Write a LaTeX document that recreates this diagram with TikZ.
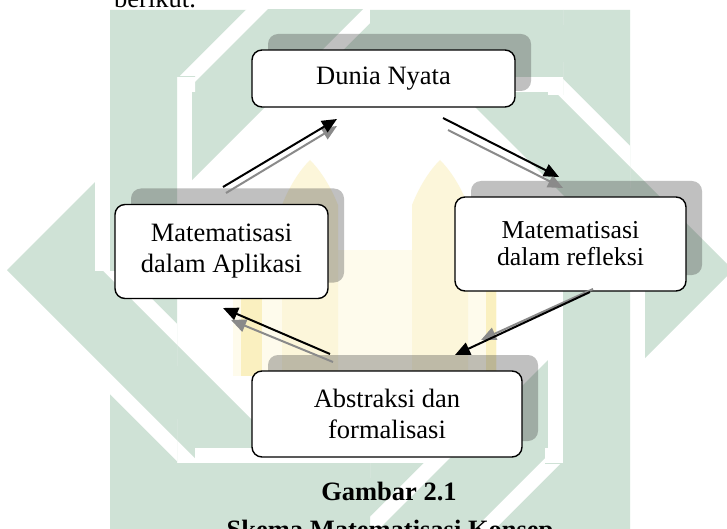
\documentclass[tikz,border=0pt]{standalone}
\usepackage{fontspec}
\setmainfont{Liberation Serif}
\usetikzlibrary{arrows.meta,shadows}
\definecolor{wm}{RGB}{207,226,214}
\definecolor{ypale}{RGB}{254,251,236}
\definecolor{ymid}{RGB}{252,246,218}
\definecolor{ystrong}{RGB}{250,240,192}
\definecolor{arrgray}{RGB}{138,138,138}
\def\wmSout{(110,10) rectangle (630,530)}
\def\wmSin{(177,77) rectangle (563,463)}
\def\wmDout{(7,270) -- (370,-93) -- (733,270) -- (370,633) -- cycle}
\def\wmDin{(102,270) -- (370,2) -- (638,270) -- (370,538) -- cycle}
\tikzset{
  box/.style={draw=black, line width=1.4pt, fill=white, rounded corners=10pt,
    inner sep=0pt, align=center,
    drop shadow={shadow xshift=16pt, shadow yshift=16pt, fill=black!75, opacity=0.33}},
  txt/.style={font=\fontsize{26.5}{31}\selectfont},
  blk/.style={line width=2pt, draw=black, -{Triangle[length=15pt,width=13pt]}},
  gry/.style={line width=2pt, draw=arrgray, -{Triangle[length=15pt,width=13pt]}},
}
\begin{document}
\begin{tikzpicture}[x=1pt,y=-1pt]
\useasboundingbox (0,0) rectangle (727,529);
\fill[white] (0,0) rectangle (727,529);
% ---- watermark ----
\begin{scope}
  \clip (0,10) rectangle (727,529);
  \fill[wm, even odd rule] \wmSout \wmSin;
  \fill[wm, even odd rule] \wmDout \wmDin;
  % diamond over square
  \foreach \cx/\cy/\dx/\dy in {177/10/370/77, 110/270/177/463, 370/463/563/529, 563/77/630/270}{
    \begin{scope}
      \clip (\cx,\cy) rectangle (\dx,\dy);
      \draw[white, line width=30pt] \wmDout \wmDin;
      \fill[wm, even odd rule] \wmDout \wmDin;
    \end{scope}
  }
  % square over diamond
  \foreach \cx/\cy/\dx/\dy in {90/77/195/270, 195/440/370/529, 545/270/650/463, 370/10/563/95}{
    \begin{scope}
      \clip (\cx,\cy) rectangle (\dx,\dy);
      \draw[white, line width=30pt] \wmSout \wmSin;
      \fill[wm, even odd rule] \wmSout \wmSin;
    \end{scope}
  }
  % pale yellow motif in the centre
  \fill[ypale] (233,250) rectangle (497,376);
  \fill[ymid] (282,376) -- (282,205) .. controls (290,185) and (300,170) .. (310,160)
     .. controls (320,170) and (330,185) .. (338,205) -- (338,376) -- cycle;
  \fill[ymid] (412,376) -- (412,205) .. controls (420,185) and (430,170) .. (440,160)
     .. controls (450,170) and (460,185) .. (468,205) -- (468,376) -- cycle;
  \fill[ystrong] (241,250) rectangle (262,376);
  \fill[ystrong] (486,250) rectangle (496,376);
\end{scope}
% ---- boxes ----
\node[box, txt, minimum width=263pt, minimum height=57pt] (dn) at (383.5,78.5) {\raisebox{-2pt}{Dunia Nyata}};
\node[box, txt, minimum width=213pt, minimum height=94pt] (apl) at (221.5,251.5) {Matematisasi\\dalam Aplikasi};
\node[box, font=\fontsize{25.8}{27}\selectfont, minimum width=231pt, minimum height=94pt] (ref) at (570.5,244) {Matematisasi\\dalam refleksi};
\node[box, txt, minimum width=270pt, minimum height=86pt] (abs) at (387,414) {Abstraksi dan\\formalisasi};
% ---- arrows ----
\coordinate (a1s) at (223,187); \coordinate (a1e) at (337,119);
\coordinate (g1s) at (226,193); \coordinate (g1e) at (337,126);
\coordinate (a2s) at (443,118); \coordinate (a2e) at (559,177);
\coordinate (g2s) at (448,130); \coordinate (g2e) at (563,188);
\coordinate (a3s) at (590,292); \coordinate (a3e) at (455,355);
\coordinate (g3s) at (593,289); \coordinate (g3e) at (481,340);
\coordinate (a4s) at (330,354); \coordinate (a4e) at (223,308);
\coordinate (g4s) at (333,362); \coordinate (g4e) at (231,320);
\draw[gry] (g1s) -- (g1e);
\draw[blk] (a1s) -- (a1e);
\draw[gry] (g2s) -- (g2e);
\draw[blk] (a2s) -- (a2e);
\draw[gry] (g3s) -- (g3e);
\draw[blk] (a3s) -- (a3e);
\draw[gry] (g4s) -- (g4e);
\draw[blk] (a4s) -- (a4e);
% ---- texts ----
\node[txt, anchor=base west, inner sep=0pt] (ber) at (114,8) {berikut.};
\node[txt, anchor=base, inner sep=0pt] (cap1) at (389,500) {\textbf{Gambar 2.1}};
\node[txt, anchor=base, inner sep=0pt] (cap2) at (390,538) {\textbf{Skema Matematisasi Konsep}};
\end{tikzpicture}
\end{document}
